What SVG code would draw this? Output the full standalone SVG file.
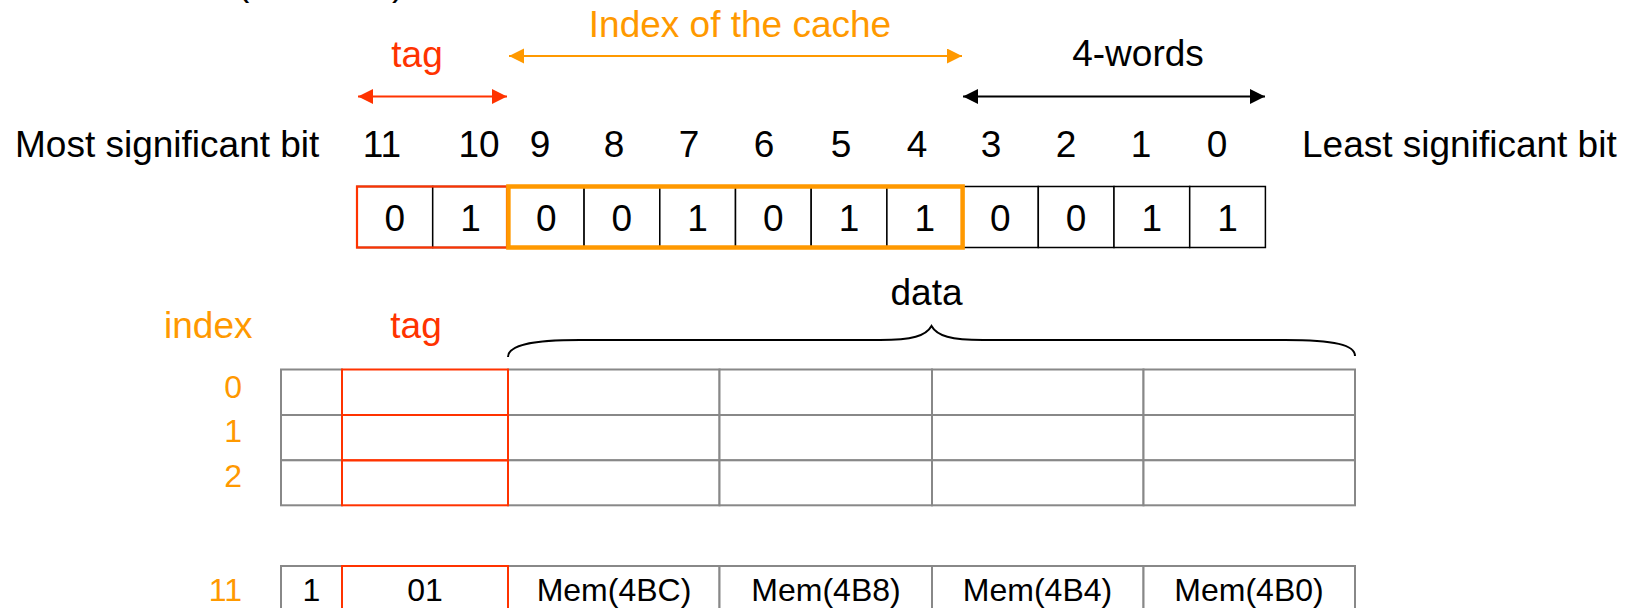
<svg xmlns="http://www.w3.org/2000/svg" width="1628" height="608" viewBox="0 0 1628 608">
  <style>
    text { font-family: "Liberation Sans", Arial, sans-serif; }
    .t37 { font-size: 37px; }
    .t32 { font-size: 32px; }
    .mid { text-anchor: middle; }
    .end { text-anchor: end; }
    .blk { fill: #000000; }
    .red { fill: #FF3300; }
    .org { fill: #FF9900; }
    .cell { fill: #ffffff; stroke: #000000; stroke-width: 1.5; }
    .grid { fill: #ffffff; stroke: #888888; stroke-width: 2; }
    .redgrid { fill: none; stroke: #FF3300; stroke-width: 2; }
  </style>
  <defs>
    <marker id="ahRed" markerUnits="userSpaceOnUse" markerWidth="16" markerHeight="16" refX="15" refY="7.5" orient="auto-start-reverse">
      <path d="M0,0 L15,7.5 L0,15 z" fill="#FF3300"/>
    </marker>
    <marker id="ahOrg" markerUnits="userSpaceOnUse" markerWidth="16" markerHeight="16" refX="15" refY="7.5" orient="auto-start-reverse">
      <path d="M0,0 L15,7.5 L0,15 z" fill="#FF9900"/>
    </marker>
    <marker id="ahBlk" markerUnits="userSpaceOnUse" markerWidth="16" markerHeight="16" refX="15" refY="7.5" orient="auto-start-reverse">
      <path d="M0,0 L15,7.5 L0,15 z" fill="#000000"/>
    </marker>
  </defs>

  <!-- cut-off title fragments -->
  <g id="title-fragment">
    <text class="t37 blk" x="237" y="-5">(</text>
    <text class="t37 blk" x="392" y="-5">)</text>
  </g>

  <!-- field labels -->
  <g id="label-tag-top"><text class="t37 red mid" x="417" y="67">tag</text></g>
  <g id="label-index-cache"><text class="t37 org mid" x="740" y="37">Index of the cache</text></g>
  <g id="label-4words"><text class="t37 blk mid" x="1138" y="66">4-words</text></g>

  <g id="connectors">
    <line x1="358" y1="96.5" x2="507" y2="96.5" stroke="#FF3300" stroke-width="2" marker-start="url(#ahRed)" marker-end="url(#ahRed)"/>
    <line x1="509" y1="56" x2="962" y2="56" stroke="#FF9900" stroke-width="2" marker-start="url(#ahOrg)" marker-end="url(#ahOrg)"/>
    <line x1="963" y1="96.5" x2="1265" y2="96.5" stroke="#000000" stroke-width="2" marker-start="url(#ahBlk)" marker-end="url(#ahBlk)"/>
    <path d="M508,357 C508,346 528,340 580,340 L880,340 C912,340 926,336 931.5,326 C937,336 951,340 983,340 L1285,340 C1335,340 1355,345 1355,356" fill="none" stroke="#000000" stroke-width="2"/>
  </g>

  <!-- bit numbers row -->
  <g id="msb-label"><text class="t37 blk" x="15" y="157">Most significant bit</text></g>
  <g id="lsb-label"><text class="t37 blk" x="1302" y="157">Least significant bit</text></g>
  <g id="bit-numbers" class="t37 blk mid">
    <text class="t37 mid" x="382" y="157">11</text>
    <text class="t37 mid" x="479" y="157">10</text>
    <text class="t37 mid" x="540" y="157">9</text>
    <text class="t37 mid" x="614" y="157">8</text>
    <text class="t37 mid" x="689" y="157">7</text>
    <text class="t37 mid" x="764" y="157">6</text>
    <text class="t37 mid" x="841" y="157">5</text>
    <text class="t37 mid" x="917" y="157">4</text>
    <text class="t37 mid" x="991" y="157">3</text>
    <text class="t37 mid" x="1066" y="157">2</text>
    <text class="t37 mid" x="1141" y="157">1</text>
    <text class="t37 mid" x="1217" y="157">0</text>
  </g>

  <!-- address bits -->
  <g id="address-bits">
    <rect class="cell" x="357" y="186.5" width="75.7" height="61"/>
    <rect class="cell" x="432.7" y="186.5" width="75.7" height="61"/>
    <rect class="cell" x="508.4" y="186.5" width="75.7" height="61"/>
    <rect class="cell" x="584.1" y="186.5" width="75.7" height="61"/>
    <rect class="cell" x="659.8" y="186.5" width="75.7" height="61"/>
    <rect class="cell" x="735.5" y="186.5" width="75.7" height="61"/>
    <rect class="cell" x="811.2" y="186.5" width="75.7" height="61"/>
    <rect class="cell" x="886.9" y="186.5" width="75.7" height="61"/>
    <rect class="cell" x="962.6" y="186.5" width="75.7" height="61"/>
    <rect class="cell" x="1038.3" y="186.5" width="75.7" height="61"/>
    <rect class="cell" x="1114" y="186.5" width="75.7" height="61"/>
    <rect class="cell" x="1189.7" y="186.5" width="75.7" height="61"/>
    <rect x="357" y="186.5" width="150" height="61" fill="none" stroke="#FF3300" stroke-width="2.2"/>
    <rect x="508.4" y="186.5" width="454.2" height="61" fill="none" stroke="#FF9900" stroke-width="4.5"/>
    <g class="t37 blk mid">
      <text class="t37 mid" x="394.8" y="231">0</text>
      <text class="t37 mid" x="470.5" y="231">1</text>
      <text class="t37 mid" x="546.2" y="231">0</text>
      <text class="t37 mid" x="621.9" y="231">0</text>
      <text class="t37 mid" x="697.6" y="231">1</text>
      <text class="t37 mid" x="773.3" y="231">0</text>
      <text class="t37 mid" x="849" y="231">1</text>
      <text class="t37 mid" x="924.7" y="231">1</text>
      <text class="t37 mid" x="1000.4" y="231">0</text>
      <text class="t37 mid" x="1076.1" y="231">0</text>
      <text class="t37 mid" x="1151.8" y="231">1</text>
      <text class="t37 mid" x="1227.5" y="231">1</text>
    </g>
  </g>

  <!-- cache table headers -->
  <g id="label-data"><text class="t37 blk mid" x="926.5" y="305">data</text></g>
  <g id="label-index"><text class="t37 org" x="164" y="338">index</text></g>
  <g id="label-tag"><text class="t37 red mid" x="416" y="338">tag</text></g>

  <g id="index-numbers">
    <text class="t32 org end" x="242" y="397.5">0</text>
    <text class="t32 org end" x="242" y="441.5">1</text>
    <text class="t32 org end" x="242" y="486.5">2</text>
    <text class="t32 org end" x="242" y="601">11</text>
  </g>

  <!-- cache rows 0-2 -->
  <g id="cache-rows">
    <rect class="grid" x="281" y="369.5" width="61" height="45.5"/>
    <rect class="grid" x="281" y="415" width="61" height="45.3"/>
    <rect class="grid" x="281" y="460.3" width="61" height="45"/>
    <rect class="grid" x="508" y="369.5" width="211.5" height="45.5"/>
    <rect class="grid" x="508" y="415" width="211.5" height="45.3"/>
    <rect class="grid" x="508" y="460.3" width="211.5" height="45"/>
    <rect class="grid" x="719.5" y="369.5" width="212.5" height="45.5"/>
    <rect class="grid" x="719.5" y="415" width="212.5" height="45.3"/>
    <rect class="grid" x="719.5" y="460.3" width="212.5" height="45"/>
    <rect class="grid" x="932" y="369.5" width="211.5" height="45.5"/>
    <rect class="grid" x="932" y="415" width="211.5" height="45.3"/>
    <rect class="grid" x="932" y="460.3" width="211.5" height="45"/>
    <rect class="grid" x="1143.5" y="369.5" width="211.5" height="45.5"/>
    <rect class="grid" x="1143.5" y="415" width="211.5" height="45.3"/>
    <rect class="grid" x="1143.5" y="460.3" width="211.5" height="45"/>
    <rect class="redgrid" x="342" y="369.5" width="166" height="45.5"/>
    <rect class="redgrid" x="342" y="415" width="166" height="45.3"/>
    <rect class="redgrid" x="342" y="460.3" width="166" height="45"/>
  </g>

  <!-- cache row 11 -->
  <g id="cache-row-11">
    <rect class="grid" x="281" y="566" width="61" height="60"/>
    <rect class="grid" x="508" y="566" width="211.5" height="60"/>
    <rect class="grid" x="719.5" y="566" width="212.5" height="60"/>
    <rect class="grid" x="932" y="566" width="211.5" height="60"/>
    <rect class="grid" x="1143.5" y="566" width="211.5" height="60"/>
    <rect class="redgrid" x="342" y="566" width="166" height="60"/>
    <text class="t32 blk mid" x="311.5" y="601">1</text>
    <text class="t32 blk mid" x="425" y="601">01</text>
    <text class="t32 blk mid" x="614" y="601">Mem(4BC)</text>
    <text class="t32 blk mid" x="826" y="601">Mem(4B8)</text>
    <text class="t32 blk mid" x="1037.5" y="601">Mem(4B4)</text>
    <text class="t32 blk mid" x="1249" y="601">Mem(4B0)</text>
  </g>
</svg>
